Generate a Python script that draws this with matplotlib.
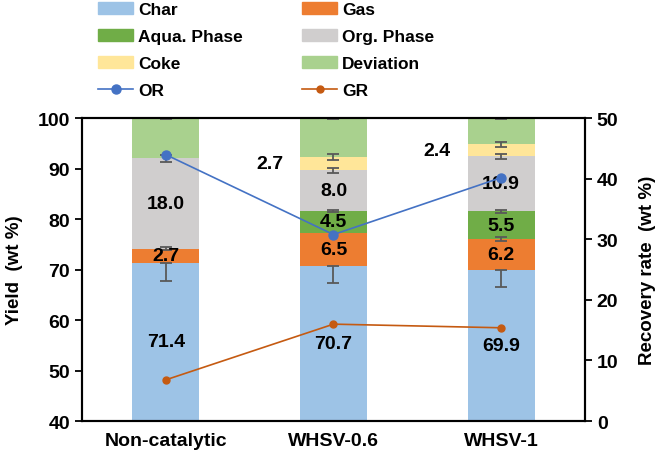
import matplotlib
matplotlib.use("Agg")
import matplotlib.pyplot as plt
from matplotlib.patches import Patch
from matplotlib.lines import Line2D
import numpy as np

plt.rcParams['font.family'] = ['Liberation Sans', 'DejaVu Sans']
plt.rcParams['font.weight'] = 'bold'

categories = ["Non-catalytic", "WHSV-0.6", "WHSV-1"]
char = [71.4, 70.7, 69.9]
gas = [2.7, 6.5, 6.2]
aqua = [0.0, 4.5, 5.5]
org = [18.0, 8.0, 10.9]
coke = [0.0, 2.7, 2.4]
deviation = [100 - (a + b + c + d + e) for a, b, c, d, e in zip(char, gas, aqua, org, coke)]

char_err_low = [3.6, 3.4, 3.4]
gas_err = [0.3, 0.0, 0.4]
aqua_err = [0.0, 0.2, 0.3]
org_err = [0.7, 0.5, 0.5]
coke_err = [0.0, 0.6, 0.5]
dev_err = [0.1, 0.1, 0.1]

OR = [44.0, 30.8, 40.2]
GR = [6.8, 16.0, 15.4]

colors = {
    "Char": "#9DC3E6",
    "Gas": "#ED7D31",
    "Aqua. Phase": "#70AD47",
    "Org. Phase": "#D0CECE",
    "Coke": "#FFE699",
    "Deviation": "#A9D18E",
}

fig = plt.figure(figsize=(6.61, 4.60), dpi=100)
ax = fig.add_axes([0.124, 0.0826, 0.761, 0.658])
x = np.arange(len(categories))
w = 0.4

series = [("Char", char), ("Gas", gas), ("Aqua. Phase", aqua),
          ("Org. Phase", org), ("Coke", coke), ("Deviation", deviation)]
bottom = np.zeros(len(categories))
tops = {}
for name, vals in series:
    vals = np.array(vals)
    ax.bar(x, vals, w, bottom=bottom, color=colors[name], zorder=2, linewidth=0)
    tops[name] = bottom + vals
    bottom = bottom + vals

errc = "#595959"
ekw = dict(fmt='none', ecolor=errc, elinewidth=1.3, capsize=4.5, capthick=1.3, zorder=3)
ax.errorbar(x, tops["Char"] - 0, yerr=[char_err_low, [0, 0, 0]], **ekw)
for name, err in [("Gas", gas_err), ("Aqua. Phase", aqua_err), ("Org. Phase", org_err),
                  ("Coke", coke_err), ("Deviation", dev_err)]:
    idx = [i for i in range(len(x)) if err[i] > 0]
    ax.errorbar(x[idx], tops[name][idx], yerr=np.array(err)[idx], **ekw)

lab_kw = dict(ha='center', va='center', fontsize=14, fontweight='bold', color='black', zorder=4)
for i in range(len(x)):
    ax.text(x[i], (40 + char[i]) / 2, f"{char[i]:.1f}", **lab_kw)
    b = char[i]
    ax.text(x[i], b + gas[i] / 2, f"{gas[i]:.1f}", **lab_kw)
    b += gas[i]
    if aqua[i] > 0:
        ax.text(x[i], b + aqua[i] / 2, f"{aqua[i]:.1f}", **lab_kw)
    b += aqua[i]
    ax.text(x[i], b + org[i] / 2, f"{org[i]:.1f}", **lab_kw)
    b += org[i]
    if coke[i] > 0:
        ax.text(x[i] - 0.38, b + coke[i] / 2, f"{coke[i]:.1f}", **lab_kw)

ax.set_ylim(40, 100)
ax.set_xlim(-0.5, 2.5)
ax.set_yticks(np.arange(40, 101, 10))
ax.set_xticks(x)
ax.set_xticklabels(categories, fontsize=14, fontweight='bold')
ax.tick_params(axis='y', labelsize=14, direction='out', length=5, width=1.3)
ax.tick_params(axis='x', length=0, pad=8)
for lbl in ax.get_yticklabels():
    lbl.set_fontweight('bold')
ax.set_ylabel("Yield  (wt %)", fontsize=13.5, fontweight='bold', labelpad=11)

ax2 = ax.twinx()
ax2.plot(x, OR, color="#4472C4", marker='o', markersize=6.5, linewidth=1.2, zorder=5)
ax2.plot(x, GR, color="#C55A11", marker='o', markersize=5, linewidth=1.2, zorder=5)
ax2.set_ylim(0, 50)
ax2.set_yticks(np.arange(0, 51, 10))
ax2.tick_params(axis='y', labelsize=14, direction='out', length=5, width=1.3)
for lbl in ax2.get_yticklabels():
    lbl.set_fontweight('bold')
ax2.set_ylabel("Recovery rate  (wt %)", fontsize=13.5, fontweight='bold', labelpad=15)

for a in (ax, ax2):
    for s in a.spines.values():
        s.set_linewidth(1.5)
        s.set_color('black')

handles = [
    Patch(color=colors["Char"]), Patch(color=colors["Aqua. Phase"]),
    Patch(color=colors["Coke"]),
    Line2D([0], [0], color="#4472C4", marker='o', markersize=6.5, linewidth=1.2),
    Patch(color=colors["Gas"]), Patch(color=colors["Org. Phase"]),
    Patch(color=colors["Deviation"]),
    Line2D([0], [0], color="#C55A11", marker='o', markersize=5, linewidth=1.2),
]
labels = ["Char", "Aqua. Phase", "Coke", "OR", "Gas", "Org. Phase", "Deviation", "GR"]
fig.legend(handles, labels, ncol=2, loc='upper left', bbox_to_anchor=(0.145, 0.999),
           frameon=False, prop={'weight': 'bold', 'size': 12.5},
           handlelength=2.0, handletextpad=0.3, columnspacing=3.4,
           labelspacing=0.68, borderpad=0.15, borderaxespad=0.0)

fig.savefig("out.png", dpi=100)
